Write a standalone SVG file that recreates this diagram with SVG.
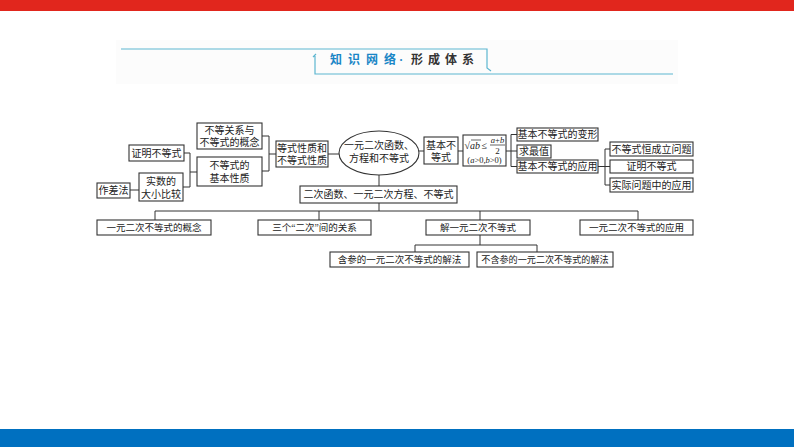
<svg xmlns="http://www.w3.org/2000/svg" width="794" height="447" viewBox="0 0 794 447">
<defs>
<style>
.box{fill:#fff;stroke:#333;stroke-width:1.1}
.t{font-family:"Liberation Serif","Noto Sans CJK SC",serif;font-size:10px;fill:#222;text-anchor:middle}
.s{font-size:9.5px}
.xs{font-size:9.1px}
.c{fill:none;stroke:#333;stroke-width:1}
.hd{fill:none;stroke:#5db6d0;stroke-width:1.2}
.i{font-style:italic}
.f{font-family:"Liberation Serif",serif;fill:#222}
</style>
</defs>
<rect x="0" y="0" width="794" height="447" fill="#fff"/>
<rect x="0" y="0" width="794" height="11" fill="#e1261d"/>
<rect x="0" y="429" width="794" height="18" fill="#0070c0"/>
<g id="header">
<rect x="116" y="40" width="562" height="44" fill="#fcfcfc"/>
<path class="hd" d="M121,49 H487 V68 L491,71"/>
<path class="hd" d="M313,57 L316,54 M315,56 V74 H673"/>
<text y="64" font-family="'Liberation Serif','Noto Sans CJK SC',serif" font-size="12" font-weight="bold"><tspan x="330" fill="#1a86c6">知</tspan><tspan x="348" fill="#1a86c6">识</tspan><tspan x="366" fill="#1a86c6">网</tspan><tspan x="384" fill="#1a86c6">络</tspan><tspan x="399" fill="#1a86c6">·</tspan><tspan x="411" fill="#333">形</tspan><tspan x="428" fill="#333">成</tspan><tspan x="445" fill="#333">体</tspan><tspan x="462" fill="#333">系</tspan></text>
</g>
<g id="connectors">
<path class="c" d="M130,190 H139"/>
<path class="c" d="M184,153 H190 M183,187 H190 M190,153 V187 M190,172 H197"/>
<path class="c" d="M262,136 H269 M262,171 H269 M269,136 V171 M269,154 H276"/>
<path class="c" d="M328,154 H339"/>
<path class="c" d="M419,151 H424"/>
<path class="c" d="M458,151 H463"/>
<path class="c" d="M506,151 H511 M511,134.5 V166.5 M511,134.5 H517 M511,151 H517 M511,166.5 H517"/>
<path class="c" d="M598,166.5 H605 M605,149 V185 M605,149 H610 M605,166.5 H610 M605,185 H610"/>
<path class="c" d="M379,175 V186"/>
<path class="c" d="M379,203 V211 M155,211 H638 M155,211 V220 M319,211 V220 M480,211 V220 M638,211 V220"/>
<path class="c" d="M480,235 V245 M415,245 H537 M415,245 V252 M537,245 V252"/>
</g>
<g id="n-zuocha"><rect class="box" x="97" y="183" width="33" height="15"/><text class="t" x="113.5" y="194">作差法</text></g>
<g id="n-shishu"><rect class="box" x="139" y="173" width="44" height="28"/><text class="t" x="161" y="185">实数的</text><text class="t" x="161" y="197.5">大小比较</text></g>
<g id="n-zhengming1"><rect class="box" x="129" y="145" width="55" height="16"/><text class="t" x="156.5" y="156.5">证明不等式</text></g>
<g id="n-guanxi"><rect class="box" x="197" y="123" width="65" height="26"/><text class="t" x="229.5" y="134">不等关系与</text><text class="t" x="229.5" y="146">不等式的概念</text></g>
<g id="n-jiben"><rect class="box" x="197" y="157" width="65" height="29"/><text class="t" x="229.5" y="169">不等式的</text><text class="t" x="229.5" y="182">基本性质</text></g>
<g id="n-dengshi"><rect class="box" x="276" y="141" width="52" height="26"/><text class="t" x="302" y="152">等式性质和</text><text class="t" x="302" y="164">不等式性质</text></g>
<g id="n-center"><ellipse cx="379" cy="153" rx="40" ry="22" fill="#fff" stroke="#333" stroke-width="1.1"/><text class="t" x="379" y="148.5">一元二次函数、</text><text class="t" x="379" y="162">方程和不等式</text></g>
<g id="n-jibenbdx"><rect class="box" x="424" y="137" width="34" height="27"/><text class="t" x="441" y="148.5">基本不</text><text class="t" x="441" y="160.5">等式</text></g>
<g id="n-formula"><rect class="box" x="463" y="135" width="43" height="31"/>
<text class="f" x="464.5" y="149" font-size="10">√<tspan class="i">ab</tspan></text>
<path d="M471,140 H481" stroke="#222" stroke-width="0.7"/>
<text class="f" x="481.5" y="149" font-size="10">≤</text>
<text class="f" x="497.5" y="142.5" font-size="8.5" text-anchor="middle"><tspan class="i">a</tspan>+<tspan class="i">b</tspan></text>
<path d="M490,145 H505" stroke="#222" stroke-width="0.7"/>
<text class="f" x="497.5" y="153.5" font-size="9" text-anchor="middle">2</text>
<text class="f" x="484.5" y="163" font-size="8.5" text-anchor="middle">(<tspan class="i">a</tspan>&gt;0,<tspan class="i">b</tspan>&gt;0)</text>
</g>
<g id="n-bianxing"><rect class="box" x="517" y="128" width="81" height="13"/><text class="t" x="557.5" y="138.2">基本不等式的变形</text></g>
<g id="n-zuizhi"><rect class="box" x="517" y="145" width="34" height="13"/><text class="t" x="534" y="155.2">求最值</text></g>
<g id="n-yingyong"><rect class="box" x="517" y="160" width="81" height="13"/><text class="t" x="557.5" y="170.2">基本不等式的应用</text></g>
<g id="n-hengchengli"><rect class="box" x="610" y="142" width="83" height="14"/><text class="t" x="651.5" y="152.5">不等式恒成立问题</text></g>
<g id="n-zhengming2"><rect class="box" x="610" y="160" width="83" height="13"/><text class="t" x="651.5" y="170.2">证明不等式</text></g>
<g id="n-shiji"><rect class="box" x="610" y="178" width="83" height="14"/><text class="t" x="651.5" y="188.5">实际问题中的应用</text></g>
<g id="n-erci"><rect class="box" x="300" y="186" width="157" height="17"/><text class="t" x="378.5" y="198">二次函数、一元二次方程、不等式</text></g>
<g id="n-gainian"><rect class="box" x="97" y="220" width="114" height="15"/><text class="t s" x="154" y="231">一元二次不等式的概念</text></g>
<g id="n-sange"><rect class="box" x="258" y="220" width="113" height="15"/><text class="t s" x="314.5" y="231">三个“二次”间的关系</text></g>
<g id="n-jie"><rect class="box" x="426" y="220" width="104" height="15"/><text class="t s" x="478" y="231">解一元二次不等式</text></g>
<g id="n-yingyong2"><rect class="box" x="580" y="220" width="113" height="15"/><text class="t s" x="636.5" y="231">一元二次不等式的应用</text></g>
<g id="n-hancan"><rect class="box" x="330" y="252" width="139" height="15"/><text class="t s" x="399.5" y="263">含参的一元二次不等式的解法</text></g>
<g id="n-buhancan"><rect class="box" x="477" y="252" width="136" height="15"/><text class="t xs" x="545" y="263">不含参的一元二次不等式的解法</text></g>
</svg>
